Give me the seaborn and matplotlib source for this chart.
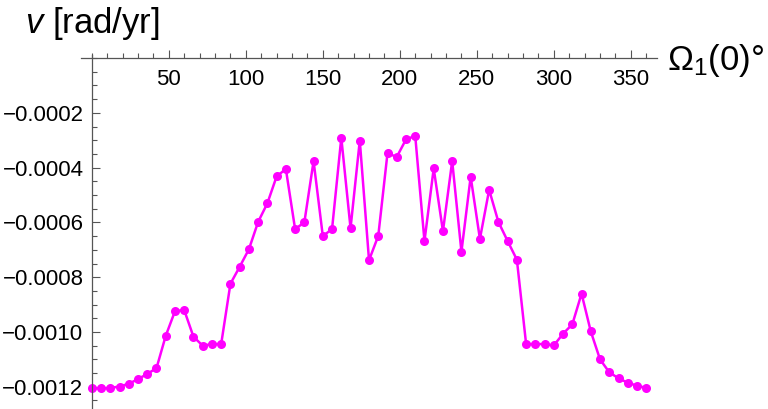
import matplotlib
matplotlib.use("Agg")
import matplotlib.pyplot as plt
import matplotlib.ticker as mticker
import numpy as np
import pandas as pd
import seaborn as sns

# Omega_1(0) in degrees, every 6 deg
omega = list(range(0, 361, 6))
# v [rad/yr]
v = [
    -0.001204, -0.001206, -0.001204, -0.001199, -0.001189, -0.001172, -0.001153,
    -0.001132, -0.001014, -0.000924, -0.000920, -0.001017, -0.001050, -0.001044,
    -0.001044, -0.000824, -0.000762, -0.000698, -0.000598, -0.000530, -0.000432,
    -0.000405, -0.000624, -0.000600, -0.000376, -0.000650, -0.000624, -0.000291,
    -0.000621, -0.000301, -0.000738, -0.000649, -0.000347, -0.000361, -0.000297,
    -0.000284, -0.000668, -0.000403, -0.000632, -0.000376, -0.000707, -0.000433,
    -0.000660, -0.000481, -0.000598, -0.000668, -0.000736, -0.001044, -0.001044,
    -0.001044, -0.001049, -0.001006, -0.000972, -0.000860, -0.000998, -0.001100,
    -0.001147, -0.001169, -0.001185, -0.001196, -0.001204,
]
x_ticks = [50, 100, 150, 200, 250, 300, 350]
y_ticks = [-0.0002, -0.0004, -0.0006, -0.0008, -0.0010, -0.0012]

df = pd.DataFrame({"omega": omega, "v": v})

sns.set_style("white")
plt.rcParams["font.family"] = ["Liberation Sans", "DejaVu Sans"]
plt.rcParams["mathtext.fontset"] = "custom"
plt.rcParams["mathtext.rm"] = "Liberation Sans"
plt.rcParams["mathtext.it"] = "Liberation Sans:italic"

fig = plt.figure(figsize=(7.68, 4.09), dpi=100)
ax = fig.add_axes([0.1055, 0.0007, 0.75, 0.864])

sns.lineplot(
    data=df, x="omega", y="v", ax=ax,
    color="#ff00ff", linewidth=1.8,
    marker="o", markersize=6.5, markeredgewidth=0,
)

ax.set_xlim(-7, 367)
ax.set_ylim(-0.00128, 0.00001)

# Mathematica-style axes crossing at the origin
ax.spines["left"].set_position(("data", 0))
ax.spines["bottom"].set_position(("data", 0))
ax.spines["top"].set_visible(False)
ax.spines["right"].set_visible(False)
for s in ("left", "bottom"):
    ax.spines[s].set_color("#555555")
    ax.spines[s].set_linewidth(0.9)

ax.xaxis.set_major_locator(mticker.FixedLocator(x_ticks))
ax.xaxis.set_minor_locator(mticker.MultipleLocator(10))
ax.yaxis.set_major_locator(mticker.FixedLocator(y_ticks))
ax.yaxis.set_minor_locator(mticker.MultipleLocator(0.00005))
ax.yaxis.set_major_formatter(mticker.FuncFormatter(lambda val, pos: f"{val:.4f}".replace("-", "\u2212")))

ax.tick_params(axis="both", which="both", direction="in", color="#555555",
               labelsize=16, labelcolor="black", width=0.8, bottom=True, left=True)
ax.tick_params(axis="both", which="major", length=6)
ax.tick_params(axis="both", which="minor", length=3.5)
ax.tick_params(axis="x", pad=8)
ax.tick_params(axis="y", pad=6)

ax.set_xlabel("")
ax.set_ylabel("")
fig.text(0.033, 0.943, r"$v$ [rad/yr]", fontsize=25, va="center", ha="left", color="black")
fig.text(0.868, 0.829, r"$\Omega_1(0)$°", fontsize=25, va="baseline", ha="left", color="black")

fig.savefig("out.png", dpi=100)
